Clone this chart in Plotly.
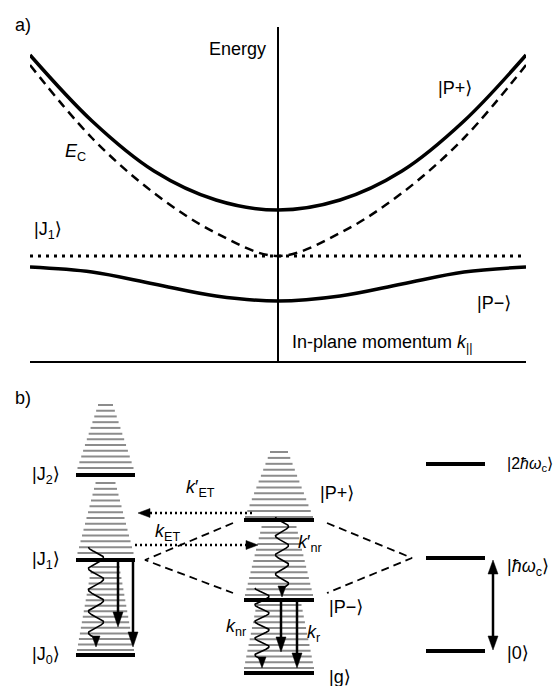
import numpy as np
import plotly.graph_objects as go

W, H = 558, 686
FONT = "Liberation Sans, Arial, Helvetica, DejaVu Sans, sans-serif"

# ---------------- (a) dispersion of the coupled modes ----------------
k_par = [-1.0, -0.75, -0.5, -0.25, 0.0, 0.25, 0.5, 0.75, 1.0]
E_cavity = [2.96, 2.23, 1.68, 1.28, 1.05, 1.28, 1.68, 2.23, 2.96]
E_upper = [3.06, 2.40, 1.90, 1.61, 1.51, 1.61, 1.90, 2.40, 3.06]
E_lower = [0.94, 0.89, 0.77, 0.65, 0.60, 0.65, 0.77, 0.89, 0.94]
k_flat = [-1.0, 1.0]
E_exciton = [1.05, 1.05]

# ---------------- (b) level scheme ----------------
J_kets = ["J<sub>0</sub>", "J<sub>1</sub>", "J<sub>2</sub>"]
E_J = [0.31, 1.26, 2.11]
pol_kets = ["g", "P−", "P+"]
E_pol = [0.13, 0.86, 1.66]
cav_kets = ["0", "<i>ħω</i><sub>c</sub>", "2<i>ħω</i><sub>c</sub>"]
E_cav = [0.35, 1.28, 2.22]

# column geometry of panel b (x centre, bold-line width)
XJ, WJ = 1.055, 0.59
XP, WP = 2.79, 0.70
XC, WC = 4.555, 0.59

# vibronic ladders drawn above each level: (gap, height, n lines, bottom width, top width)
J_ladders = [(0.05, 0.83, 16, 0.57, 0.28), (0.07, 0.70, 13, 0.56, 0.20), (0.07, 0.63, 12, 0.56, 0.15)]
pol_ladders = [(0.05, 0.63, 12, 0.70, 0.45), (0.05, 0.68, 13, 0.68, 0.35), (0.03, 0.65, 12, 0.68, 0.18)]

fig = go.Figure()

# ---- panel (a) curves ----
fig.add_trace(go.Scatter(x=k_par, y=E_cavity, mode="lines", line=dict(color="black", width=2.5, dash="9px,6px", shape="spline")))
fig.add_trace(go.Scatter(x=k_flat, y=E_exciton, mode="lines", line=dict(color="black", width=3, dash="3px,5px")))
fig.add_trace(go.Scatter(x=k_par, y=E_upper, mode="lines", line=dict(color="black", width=3.5, shape="spline")))
fig.add_trace(go.Scatter(x=k_par, y=E_lower, mode="lines", line=dict(color="black", width=3.5, shape="spline")))

B = dict(xaxis="x2", yaxis="y2", mode="lines", hoverinfo="skip")


def ladder(xc, E, spec):
    gap, height, n, wb, wt = spec
    xs, ys = [], []
    for i in range(n):
        f = i / (n - 1)
        y = E + gap + f * height
        w = wb + (wt - wb) * f
        xs += [xc - w / 2, xc + w / 2, None]
        ys += [y, y, None]
    return go.Scatter(x=xs, y=ys, line=dict(color="#8c8c8c", width=2), **B)


def level(xc, w, E):
    return go.Scatter(x=[xc - w / 2, xc + w / 2], y=[E, E], line=dict(color="black", width=4), **B)


def head(xt, yt, d, L=0.14, w=0.10):
    if d == "down":
        px, py = [xt, xt - w / 2, xt + w / 2, xt], [yt, yt + L, yt + L, yt]
    elif d == "up":
        px, py = [xt, xt - w / 2, xt + w / 2, xt], [yt, yt - L, yt - L, yt]
    elif d == "left":
        px, py = [xt, xt + L, xt + L, xt], [yt, yt + w / 2, yt - w / 2, yt]
    else:
        px, py = [xt, xt - L, xt - L, xt], [yt, yt + w / 2, yt - w / 2, yt]
    return go.Scatter(x=px, y=py, fill="toself", fillcolor="black", line=dict(color="black", width=0.5), **B)


def straight(x, y0, yt, L=0.15, w=0.10):
    return [go.Scatter(x=[x, x], y=[y0, yt + L * 0.8], line=dict(color="black", width=2.5), **B),
            head(x, yt, "down", L, w)]


def wavy(xc, y0, yt, amp=0.075, L=0.11, w=0.08, cycles=4.25):
    y = np.linspace(y0, yt + L * 0.8, 300)
    per = (y0 - (yt + L * 0.8)) / cycles
    x = xc - amp * np.cos(2 * np.pi * (y0 - y) / per)
    return [go.Scatter(x=x, y=y, line=dict(color="black", width=1.6), **B), head(xc, yt, "down", L, w)]


for E, s in zip(E_J, J_ladders):
    fig.add_trace(ladder(XJ, E, s))
for E, s in zip(E_pol, pol_ladders):
    fig.add_trace(ladder(XP, E, s))

for E in E_J:
    fig.add_trace(level(XJ, WJ, E))
for E in E_pol:
    fig.add_trace(level(XP, WP, E))
for E in E_cav:
    fig.add_trace(level(XC, WC, E))

# coupling of J1 and the cavity mode into P+ / P-
dash_b = dict(color="black", width=1.8, dash="8px,5px")
fig.add_trace(go.Scatter(x=[2.33, 1.45, 2.33], y=[E_pol[2] - 0.03, E_J[1], E_pol[1] + 0.07], line=dash_b, **B))
fig.add_trace(go.Scatter(x=[3.27, 4.12, 3.27], y=[E_pol[2] - 0.03, E_cav[1], E_pol[1] + 0.07], line=dash_b, **B))

# energy transfer (dotted arrows)
dot_b = dict(color="black", width=2.5, dash="2px,3px")
y_etp = E_pol[2] + 0.07
fig.add_trace(go.Scatter(x=[2.52, 1.38 + 0.11], y=[y_etp, y_etp], line=dot_b, **B))
fig.add_trace(head(1.38, y_etp, "left", L=0.12, w=0.09))
y_et = E_J[1] + 0.15
fig.add_trace(go.Scatter(x=[1.35, 2.58 - 0.11], y=[y_et, y_et], line=dot_b, **B))
fig.add_trace(head(2.58, y_et, "right", L=0.12, w=0.09))

# relaxation arrows
for tr in (wavy(0.96, E_J[1] + 0.13, E_J[0] + 0.08)
           + straight(1.18, E_J[1], E_J[0] + 0.28)
           + straight(1.33, E_J[1], E_J[0] + 0.08)
           + wavy(2.82, E_pol[2] + 0.03, E_pol[1] + 0.03, amp=0.065, cycles=3.75)
           + wavy(2.62, E_pol[1] + 0.12, E_pol[0] + 0.05, amp=0.07)
           + straight(2.81, E_pol[1], E_pol[0] + 0.21)
           + straight(2.97, E_pol[1], E_pol[0] + 0.05)):
    fig.add_trace(tr)

# cavity photon quantum
xd = 4.93
fig.add_trace(go.Scatter(x=[xd, xd], y=[E_cav[0] + 0.12, E_cav[1] - 0.13], line=dict(color="black", width=2.5), **B))
fig.add_trace(head(xd, E_cav[1] - 0.02, "up", L=0.14, w=0.10))
fig.add_trace(head(xd, E_cav[0] + 0.01, "down", L=0.14, w=0.10))

# ---- text ----
ann = []


def txt(x, y, s, xanchor="left", ref="", size=18):
    ann.append(dict(x=x, y=y, text=s, xref="x" + ref if ref != "paper" else "paper",
                    yref="y" + ref if ref != "paper" else "paper",
                    xanchor=xanchor, yanchor="middle", showarrow=False,
                    font=dict(family=FONT, size=size, color="black")))


def ket(s):
    return "|" + s + "⟩"


txt(13 / W, 1 - 25 / H, "a)", ref="paper")
txt(-0.04, 3.12, "Energy", xanchor="right")
txt(0.637, 2.73, ket("P+"))
txt(-0.867, 2.09, "<i>E</i><sub>C</sub>")
txt(-0.992, 1.31, ket("J<sub>1</sub>"))
txt(0.794, 0.58, ket("P−"))
txt(0.048, 0.18, "In-plane momentum <i>k</i><sub>||</sub>")

txt(13 / W, 1 - 398 / H, "b)", ref="paper")
for E, s in zip(E_J, J_kets):
    txt(0.62, E, ket(s), xanchor="right", ref="2")
txt(3.18, E_pol[2] + 0.27, ket(pol_kets[2]), ref="2")
txt(3.27, E_pol[1] - 0.07, ket(pol_kets[1]), ref="2")
txt(3.27, E_pol[0] - 0.04, ket(pol_kets[0]), ref="2")
for E, s, dy, sz in zip(E_cav, cav_kets, [-0.02, -0.09, 0.0], [18, 18, 16]):
    txt(5.05, E + dy, ket(s), ref="2", size=sz)

txt(2.00, 1.98, "<i>k</i>′<sub>ET</sub>", xanchor="center", ref="2")
txt(1.67, 1.54, "<i>k</i><sub>ET</sub>", xanchor="center", ref="2")
txt(3.10, 1.43, "<i>k</i>′<sub>nr</sub>", xanchor="center", ref="2")
txt(2.36, 0.59, "<i>k</i><sub>nr</sub>", xanchor="center", ref="2")
txt(3.13, 0.53, "<i>k</i><sub>r</sub>", xanchor="center", ref="2")

fig.update_layout(
    width=W, height=H, margin=dict(l=0, r=0, t=0, b=0),
    paper_bgcolor="white", plot_bgcolor="rgba(0,0,0,0)", showlegend=False,
    annotations=ann,
    xaxis=dict(domain=[30 / W, 526 / W], range=[-1, 1], showline=True, linecolor="black", linewidth=1.5,
               showgrid=False, zeroline=False, showticklabels=False, ticks="", anchor="y"),
    yaxis=dict(domain=[(H - 361) / H, (H - 27) / H], range=[0, 3.34], showline=True, linecolor="black",
               linewidth=1.5, showgrid=False, zeroline=False, showticklabels=False, ticks="",
               anchor="free", position=278 / W),
    xaxis2=dict(domain=[0, 1], range=[0, W / 100], visible=False, anchor="y2"),
    yaxis2=dict(domain=[0, 300 / H], range=[0, 3.0], visible=False, anchor="x2"),
)

fig.write_html("out.html")
